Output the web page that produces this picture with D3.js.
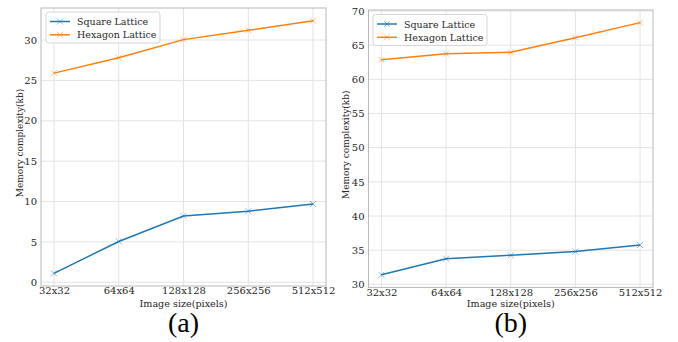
<!DOCTYPE html>
<html><head><meta charset="utf-8">
<script src="https://cdn.jsdelivr.net/npm/d3@7/dist/d3.min.js"></script>
<style>body{margin:0;background:#fff}svg{display:block}</style>
</head><body>
<script>
const categories = ["32x32","64x64","128x128","256x256","512x512"];
const seriesNames = ["Square Lattice","Hexagon Lattice"];
const squareA = [1.1, 5.05, 8.2, 8.8, 9.7];
const hexagonA = [25.9, 27.8, 30.05, 31.2, 32.4];
const squareB = [31.4, 33.75, 34.25, 34.8, 35.75];
const hexagonB = [62.85, 63.75, 63.95, 66.1, 68.3];
const yTicksA = [0,5,10,15,20,25,30];
const yTicksB = [30,35,40,45,50,55,60,65,70];
const panelLabels = ["(a)","(b)"];
const xLabel = "Image size(pixels)";
const yLabel = "Memory complexity(kb)";

const colors = ["#1f77b4","#ff7f0e"];
const W = 678, H = 342;
const svg = d3.select("body").append("svg").attr("width",W).attr("height",H);
svg.append("rect").attr("width",W).attr("height",H).attr("fill","#fff");
const font = "'DejaVu Serif', serif";
const textCol = "#262626";

const panels = [
  {left:41, right:326, top:8, bottom:286, series:[squareA,hexagonA], ticks:yTicksA, label:panelLabels[0], ylabX:20, legX:46, legY:12},
  {left:368.5, right:653, top:10, bottom:287.4, series:[squareB,hexagonB], ticks:yTicksB, label:panelLabels[1], ylabX:346, legX:373, legY:14.5}
];

panels.forEach(p => {
  const g = svg.append("g");
  const x = d3.scalePoint().domain(categories).range([p.left,p.right]).padding(0.2);
  const all = p.series.flat();
  const mn = d3.min(all), mx = d3.max(all), m = (mx-mn)*0.05;
  const y = d3.scaleLinear().domain([mn-m, mx+m]).range([p.bottom,p.top]);

  g.selectAll(".gx").data(categories).enter().append("line")
    .attr("x1",d=>x(d)).attr("x2",d=>x(d)).attr("y1",p.top).attr("y2",p.bottom)
    .attr("stroke","#e3e3e3").attr("stroke-width",1);
  g.selectAll(".gy").data(p.ticks).enter().append("line")
    .attr("x1",p.left).attr("x2",p.right).attr("y1",d=>y(d)).attr("y2",d=>y(d))
    .attr("stroke","#e3e3e3").attr("stroke-width",1);

  const ax = g.append("g").attr("transform",`translate(0,${p.bottom})`)
    .call(d3.axisBottom(x).tickSize(0).tickPadding(1));
  ax.select(".domain").remove();
  ax.selectAll("text").attr("font-family",font).attr("font-size",10).attr("fill",textCol);
  const ay = g.append("g").attr("transform",`translate(${p.left},0)`)
    .call(d3.axisLeft(y).tickValues(p.ticks).tickSize(0).tickPadding(4));
  ay.select(".domain").remove();
  ay.selectAll("text").attr("font-family",font).attr("font-size",10).attr("fill",textCol);

  g.append("rect").attr("x",p.left).attr("y",p.top).attr("width",p.right-p.left).attr("height",p.bottom-p.top)
    .attr("fill","none").attr("stroke","#b8b8b8").attr("stroke-width",1);

  const line = d3.line().x((d,i)=>x(categories[i])).y(d=>y(d));
  p.series.forEach((s,si) => {
    g.append("path").datum(s).attr("d",line).attr("fill","none")
      .attr("stroke",colors[si]).attr("stroke-width",1.5);
    const ms = 3;
    g.selectAll(null).data(s).enter().append("path")
      .attr("d",(d,i)=>{const cx=x(categories[i]), cy=y(d);
        return `M${cx-ms},${cy-ms}L${cx+ms},${cy+ms}M${cx-ms},${cy+ms}L${cx+ms},${cy-ms}`;})
      .attr("stroke",colors[si]).attr("stroke-width",1).attr("opacity",0.5).attr("fill","none");
  });

  const cx = (p.left+p.right)/2;
  g.append("text").attr("x",cx).attr("y",307).attr("text-anchor","middle")
    .attr("font-family",font).attr("font-size",9.6).attr("fill",textCol).text(xLabel);
  const cy = (p.top+p.bottom)/2 - 4;
  g.append("text").attr("transform",`translate(${p.ylabX},${cy}) rotate(-90)`).attr("text-anchor","middle")
    .attr("dominant-baseline","central")
    .attr("font-family",font).attr("font-size",9).attr("fill",textCol).text(yLabel);

  g.append("text").attr("x",cx).attr("y",332).attr("text-anchor","middle")
    .attr("font-family","'Liberation Serif', serif").attr("font-size",28).attr("fill","#000").text(p.label);

  const lg = g.append("g").attr("transform",`translate(${p.legX},${p.legY})`);
  lg.append("rect").attr("width",114).attr("height",31).attr("rx",2.5)
    .attr("fill","#fff").attr("fill-opacity",0.8).attr("stroke","#d5d5d5").attr("stroke-width",1);
  seriesNames.forEach((n,i) => {
    const yy = 9.5 + i*13.3;
    lg.append("line").attr("x1",4).attr("x2",24).attr("y1",yy).attr("y2",yy)
      .attr("stroke",colors[i]).attr("stroke-width",1.5);
    lg.append("path").attr("d",`M11,${yy-3}L17,${yy+3}M11,${yy+3}L17,${yy-3}`)
      .attr("stroke",colors[i]).attr("stroke-width",1).attr("opacity",0.5);
    lg.append("text").attr("x",31).attr("y",yy).attr("dominant-baseline","central")
      .attr("font-family",font).attr("font-size",9.5).attr("fill",textCol).text(n);
  });
});
</script>
</body></html>
